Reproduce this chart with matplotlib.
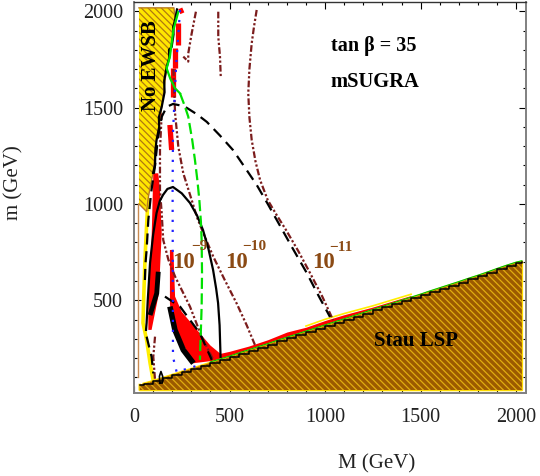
import matplotlib
matplotlib.use('Agg')
import matplotlib.pyplot as plt

plt.rcParams['font.family'] = ['Liberation Serif', 'DejaVu Serif']
plt.rcParams['hatch.linewidth'] = 0.9

# Stau LSP boundary (staircase)
stau_x = [30,50,100,150,200,250,300,350,400,450,500,550,600,650,700,750,800,850,900,950,1000,
          1050,1100,1150,1200,1250,1300,1350,1400,1450,1500,1550,1600,1650,1700,1750,1800,1850,1900,1950,2000,2030]
stau_y = [60,66,80,96,112,128,143,159,175,190,205,222,238,254,270,287,303,319,335,351,367,
          383,399,415,431,447,463,479,495,511,527,544,560,576,592,609,625,642,660,677,693,700]
stau_bottom = 34
stau_right = 2030

# No EWSB region
ewsb_x = [26,209,215,205,197,171,160,145,130,118,100,85,73,66,26]
ewsb_y = [2018,2018,1955,1880,1815,1711,1620,1504,1400,1332,1161,1090,1021,960,1000]
ewsb_tail_x = [73,65,58,52,47,66,84,100]
ewsb_tail_y = [1021,870,725,550,382,294,174,86]
edge_x = [23,23]
edge_y = [1000,100]

# Red allowed regions
red_left_x = [101,127,136,145,136,127,92,75,75,92]
red_left_y = [1159,1159,1073,848,657,519,346,346,553,813]
red_low_x = [188,206,215,250,345,400,450,450,311,197,188]
red_low_y = [761,761,519,440,328,265,224,190,173,380,484]
red_strip_x = [450,500,600,700,800,900,1000,1100,1250,1450]
red_strip_top = [224,235,262,295,335,360,395,425,465,525]
red_strip_bot = [190,205,238,270,303,335,367,399,447,511]
red_d1_x, red_d1_y = [258,237], [2007,1998]
red_d2_x, red_d2_y = [232,232], [1938,1825]
red_d3_x, red_d3_y = [214,214], [1808,1704]
red_d4_x, red_d4_y = [206,206], [1704,1557]
red_d5_x, red_d5_y = [188,197], [1410,1280]

# Thick black bands
blk_low_x = [188,214,258,311]
blk_low_y = [467,346,242,173]
blk_left_x = [127,119,84]
blk_left_y = [648,536,423]
blk_up_x = [100,110,112,118,132,130,145,160,158,171,185,183,197,207,205,215,225]
blk_up_y = [1161,1200,1280,1332,1400,1450,1504,1580,1640,1711,1760,1800,1815,1880,1920,1955,2010]

# Contours
solid_x = [63,66,72,84,100,118,135,152,175,204,250,293,330,361,390,414,430,440,448,453]
solid_y = [346,382,500,694,840,953,1015,1047,1078,1088,1055,1005,940,865,765,657,560,486,370,206]
dash_x = [57,60,66,75,90,110,125,145,171,204,240,276,330,381,450,518,580,642,700,747,830,904,965,1026]
dash_y = [605,690,761,917,1060,1200,1340,1452,1504,1519,1512,1499,1465,1426,1355,1280,1190,1099,1000,917,770,642,525,413]
dash_low_x = [162,241,345,407]
dash_low_y = [519,467,328,190]
dash_ll_x = [66,92,101]
dash_ll_y = [311,207,120]
green_s_x = [232,206,188,171,190,215,241]
green_s_y = [1998,1903,1765,1704,1650,1600,1574]
green_d_x = [241,265,284,305,319,332,342,350,354,356,354,345]
green_d_y = [1574,1510,1453,1330,1228,1120,1020,910,813,640,467,190]
blue_x = [241,220,204,202,204,223,345]
blue_y = [2007,1711,1369,1073,206,128,164]

# Lifetime contours
frag_a_x = [324,302,284,284,258]
frag_a_y = [1998,1886,1782,1739,1765]
frag_b_x = [441,441,450,454]
frag_b_y = [1998,1869,1765,1661]
c11_x = [642,628,616,604,598,604,616,636,660,700,745,796,860,921,985,1042]
c11_y = [2007,1920,1834,1700,1574,1450,1332,1220,1124,1020,945,864,755,642,520,397]
c10_x = [206,215,232,258,302,330,363,415,475,537,590,633]
c10_y = [1700,1470,1297,1159,1020,930,848,726,605,484,370,268]
c9_x = [145,136,136,145,153,180,215,293,354,415]
c9_y = [1470,1280,1073,951,813,710,623,467,311,190]
cll_x = [110,101,110]
cll_y = [311,207,86]
loop_x = [135,133,141,150,148,135]
loop_y = [70,105,130,105,70,70]

x_ticks = [0,500,1000,1500,2000]
y_ticks = [500,1000,1500,2000]
x_minor = list(range(0,2001,100))
y_minor = list(range(100,2001,100))

BROWN = '#9c5a00'
YELLOW = '#ffe600'
DKRED = '#7b1c1c'
TXT = '#8b4a14'
HATCH = '\\' * 5

fig = plt.figure(figsize=(5.4,4.76), dpi=100)
ax = fig.add_axes([134/540, 1-392.7/476, 391.7/540, 391.2/476])
ax.set_xlim(0,2050)
ax.set_ylim(20,2051)

# regions
ax.fill(ewsb_x, ewsb_y, facecolor=YELLOW, edgecolor='#b07a10', hatch=HATCH, linewidth=0, zorder=2)
ax.plot(ewsb_x, ewsb_y, color='#b87a20', lw=1.0, zorder=2.1)
ax.plot(ewsb_tail_x, ewsb_tail_y, color='#ffee00', lw=2.6, zorder=2)
ax.plot(edge_x, edge_y, color='#c88a50', lw=1.0, zorder=2)

ax.fill_between(red_strip_x, red_strip_bot, red_strip_top, color='red', lw=0, zorder=2.5)
ax.plot(red_strip_x[5:], [v + 6 for v in red_strip_top[5:]], color='#ffee00', lw=1.2, zorder=2.4)
ax.fill(red_left_x, red_left_y, color='red', lw=0, zorder=2.5)
ax.fill(red_low_x, red_low_y, color='red', lw=0, zorder=2.5)
for dx, dy in [(red_d1_x,red_d1_y),(red_d2_x,red_d2_y),(red_d3_x,red_d3_y),(red_d4_x,red_d4_y),(red_d5_x,red_d5_y)]:
    ax.plot(dx, dy, color='red', lw=3.8, solid_capstyle='butt', zorder=2.5)

sx = stau_x + [stau_right, stau_right, stau_x[0]]
sy = stau_y + [stau_y[-1], stau_bottom, stau_bottom]
ax.fill(sx, sy, facecolor=BROWN, edgecolor='#e0ac10', hatch=HATCH, linewidth=0, zorder=3)
ax.plot(sx[1:] + sx[:1], sy[1:] + sy[:1], color='#ffdc00', lw=1.8, zorder=2.9)
ax.step(stau_x, stau_y, where='post', color='black', lw=1.1, zorder=3.2)
ax.plot(stau_x[8:], [v + 5 for v in stau_y[8:]], color='#00c000', lw=0.8, zorder=3.1)

# thick black bands
ax.plot(blk_low_x, blk_low_y, color='black', lw=4, zorder=4, solid_capstyle='butt')
ax.plot(blk_left_x, blk_left_y, color='black', lw=3.5, zorder=4, solid_capstyle='butt')
ax.plot(blk_up_x, blk_up_y, color='black', lw=1.6, zorder=4)

# contours
dd = (0,(3,1,1,1,1,1))
for cx, cy in [(frag_a_x,frag_a_y),(frag_b_x,frag_b_y),(c11_x,c11_y),(c10_x,c10_y),(c9_x,c9_y),(cll_x,cll_y)]:
    ax.plot(cx, cy, color=DKRED, lw=1.6, ls=dd, zorder=5)
ax.plot(solid_x, solid_y, color='black', lw=1.6, zorder=5)
ax.plot(loop_x, loop_y, color='black', lw=1.2, zorder=5)
for cx, cy in [(dash_x,dash_y),(dash_low_x,dash_low_y),(dash_ll_x,dash_ll_y)]:
    ax.plot(cx, cy, color='black', lw=1.6, ls=(0,(5,3)), zorder=5)
ax.plot(green_s_x, green_s_y, color='#00e000', lw=1.6, zorder=5)
ax.plot(green_d_x, green_d_y, color='#00e000', lw=1.6, ls=(0,(5,2)), zorder=5)
ax.plot(blue_x, blue_y, color='#2020ff', lw=1.6, ls=(0,(1,3.5)), zorder=5)

# text
for tx, ty, e, ex, ey in [(258,695,'\u22129',340,778),(538,695,'\u221210',628,777),(990,695,'\u221211',1084,775)]:
    ax.text(tx, ty, '10', color=TXT, fontsize=16.5, fontweight='bold', ha='center', va='center', zorder=6)
    ax.text(ex, ey, e, color=TXT, fontsize=11, fontweight='bold', ha='center', va='center', zorder=6)
ax.text(1257,1820,'tan \u03b2 = 35', fontsize=14.5, fontweight='bold', ha='center', va='center', zorder=6)
ax.text(1262,1635,'mSUGRA', fontsize=14.8, fontweight='bold', ha='center', va='center', zorder=6)
ax.text(1475,289,'Stau LSP', fontsize=15, fontweight='bold', ha='center', va='center', zorder=6)
ax.text(87,1716,'No EWSB', fontsize=15, fontweight='bold', rotation=90, ha='center', va='center', zorder=6)

ax.set_xticks(x_ticks)
ax.set_yticks(y_ticks)
ax.set_xticks(x_minor, minor=True)
ax.set_yticks(y_minor, minor=True)
ax.tick_params(which='major', direction='in', length=5, width=0.8, top=True, right=True, labelsize=14.5, labelcolor='#222222')
ax.tick_params(which='minor', direction='in', length=2.5, width=0.8, top=True, right=True)
ax.tick_params(axis='x', which='major', pad=11)
ax.tick_params(axis='y', which='major', pad=8)

for s in ['left','bottom','right']:
    ax.spines[s].set_color('#808080')
    ax.spines[s].set_linewidth(1.4)
ax.spines['top'].set_color('#333333')
ax.spines['top'].set_linewidth(1.0)

ax.set_xlabel('M (GeV)', fontsize=15, color='#222222', va='center')
ax.xaxis.set_label_coords(0.62, -0.183)
ax.set_ylabel('m (GeV)', fontsize=15, color='#222222', va='center')
ax.yaxis.set_label_coords(-0.306, 0.536)

fig.savefig('out.png', dpi=100)
